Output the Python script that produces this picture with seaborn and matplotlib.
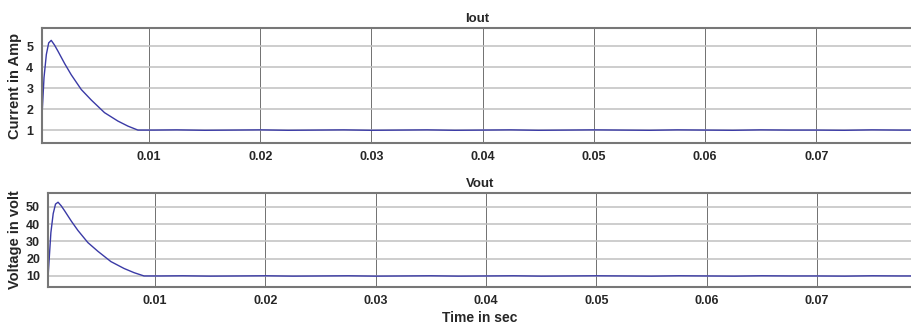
import numpy as np
import pandas as pd
import seaborn as sns
import matplotlib
matplotlib.use("Agg")
import matplotlib.pyplot as plt

# time points (s)
time = [0.00031, 0.0004, 0.00056, 0.00077, 0.00098, 0.00121, 0.0015, 0.00182, 0.00242,
        0.00301, 0.00391, 0.00481, 0.006, 0.0072, 0.0081, 0.009, 0.0105,
        0.0125, 0.015, 0.0175, 0.02, 0.0225, 0.025, 0.0275, 0.03, 0.0325, 0.035,
        0.0375, 0.04, 0.0425, 0.045, 0.0475, 0.05, 0.0525, 0.055, 0.0575, 0.06,
        0.0625, 0.065, 0.0675, 0.07, 0.0725, 0.075, 0.0775, 0.079]

# output current (A)
iout = [1.0, 1.9, 3.5, 4.6, 5.15, 5.27, 5.05, 4.75, 4.16,
        3.63, 2.93, 2.43, 1.83, 1.43, 1.19, 1.0, 1.0,
        1.01, 0.99, 1.0, 1.01, 0.99, 1.0, 1.01, 0.99, 1.0, 1.01,
        0.99, 1.0, 1.01, 0.99, 1.0, 1.01, 1.0, 0.99, 1.01, 1.0,
        0.99, 1.01, 1.0, 1.0, 0.99, 1.01, 1.0, 1.0]

# output voltage (V)
vout = [10.0, 19.0, 35.0, 46.0, 51.5, 52.6, 50.5, 47.5, 41.6,
        36.3, 29.3, 24.3, 18.3, 14.3, 11.9, 10.0, 10.0,
        10.1, 9.9, 10.0, 10.1, 9.9, 10.0, 10.1, 9.9, 10.0, 10.1,
        9.9, 10.0, 10.1, 9.9, 10.0, 10.1, 10.0, 9.9, 10.1, 10.0,
        9.9, 10.1, 10.0, 10.0, 9.9, 10.1, 10.0, 10.0]

df = pd.DataFrame({"t": time, "iout": iout, "vout": vout})

sns.set_style("white")
plt.rcParams["font.family"] = ["Liberation Sans", "DejaVu Sans"]
plt.rcParams["font.weight"] = "bold"

line_color = "#3a3aa6"
fig = plt.figure(figsize=(9.12, 3.29), dpi=100)
ax1 = fig.add_axes([0.0457, 0.565, 0.9543, 0.35])
ax2 = fig.add_axes([0.053, 0.1286, 0.947, 0.2857])

sns.lineplot(data=df, x="t", y="iout", ax=ax1, color=line_color, linewidth=1)
sns.lineplot(data=df, x="t", y="vout", ax=ax2, color=line_color, linewidth=1)

setup = [
    (ax1, "Iout", "Current in Amp", [1, 2, 3, 4, 5], (0.38, 5.86), (0.00035, 0.0786), ""),
    (ax2, "Vout", "Voltage in volt", [10, 20, 30, 40, 50], (3.8, 58.1), (0.00033, 0.0786), "Time in sec"),
]
for ax, title, ylab, yt, ylim, xlim, xlab in setup:
    ax.set_xlim(*xlim)
    ax.set_ylim(*ylim)
    ax.set_xticks([0.01, 0.02, 0.03, 0.04, 0.05, 0.06, 0.07])
    ax.set_xticklabels(["0.01", "0.02", "0.03", "0.04", "0.05", "0.06", "0.07"])
    ax.set_yticks(yt)
    ax.tick_params(labelsize=9, length=0, pad=6)
    for lbl in ax.get_xticklabels() + ax.get_yticklabels():
        lbl.set_fontweight("bold")
    ax.set_title(title, fontsize=9.5, fontweight="bold", pad=4)
    ax.set_ylabel(ylab, fontsize=10.5, fontweight="bold", labelpad=3)
    ax.set_xlabel(xlab, fontsize=10, fontweight="bold", labelpad=3)
    ax.yaxis.grid(True, color="#c0c0c0", linewidth=1.1)
    ax.xaxis.grid(True, color="#5a5a5a", linewidth=0.6)
    ax.set_axisbelow(True)
    for side in ["left", "bottom", "top"]:
        ax.spines[side].set_color("#777777")
        ax.spines[side].set_linewidth(1.5)
    ax.spines["right"].set_visible(False)

fig.savefig("out.png", dpi=100)
